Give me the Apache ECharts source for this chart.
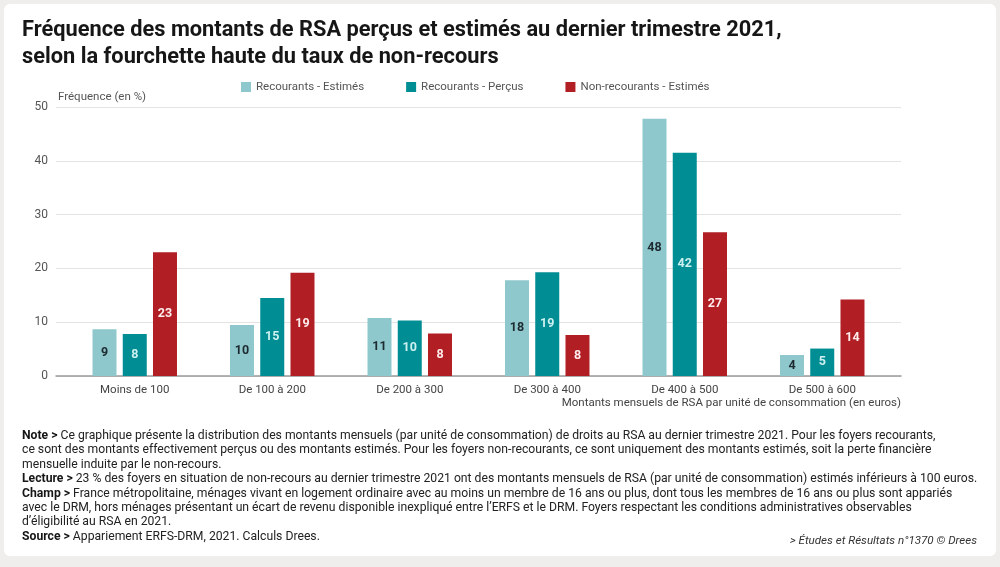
<!DOCTYPE html>
<html>
<head>
<meta charset="utf-8">
<script src="https://cdn.jsdelivr.net/npm/echarts@6/dist/echarts.min.js"></script>
<style>
  html, body { margin: 0; padding: 0; background: #efeeed; }
  #main { position: absolute; left: 0; top: 0; width: 1000px; height: 567px; }
</style>
</head>
<body>
<div id="main"></div>
<script>
var categories = ['Moins de 100', 'De 100 à 200', 'De 200 à 300', 'De 300 à 400', 'De 400 à 500', 'De 500 à 600'];
var seriesNames = ['Recourants - Estimés', 'Recourants - Perçus', 'Non-recourants - Estimés'];
var recourantsEstimes = [8.7, 9.5, 10.8, 17.8, 47.8, 3.9];
var recourantsPercus = [7.8, 14.5, 10.3, 19.3, 41.5, 5.1];
var nonRecourantsEstimes = [23.0, 19.2, 7.9, 7.6, 26.7, 14.2];
var colors = ['#8ec8cc', '#008d93', '#b11f24'];
var labelColors = ['#1d2a30', '#cdf1f1', '#ffecec'];

var noteLines = [
  ['Note >', ' Ce graphique présente la distribution des montants mensuels (par unité de consommation) de droits au RSA au dernier trimestre 2021. Pour les foyers recourants,'],
  ['', 'ce sont des montants effectivement perçus ou des montants estimés. Pour les foyers non-recourants, ce sont uniquement des montants estimés, soit la perte financière'],
  ['', 'mensuelle induite par le non-recours.'],
  ['Lecture >', ' 23 % des foyers en situation de non-recours au dernier trimestre 2021 ont des montants mensuels de RSA (par unité de consommation) estimés inférieurs à 100 euros.'],
  ['Champ >', ' France métropolitaine, ménages vivant en logement ordinaire avec au moins un membre de 16 ans ou plus, dont tous les membres de 16 ans ou plus sont appariés'],
  ['', 'avec le DRM, hors ménages présentant un écart de revenu disponible inexpliqué entre l’ERFS et le DRM. Foyers respectant les conditions administratives observables'],
  ['', 'd’éligibilité au RSA en 2021.'],
  ['Source >', ' Appariement ERFS-DRM, 2021. Calculs Drees.']
];

(function () {
  var myChart = echarts.init(document.getElementById('main'));
  var font = 'Roboto, "Noto Sans", sans-serif';
  var data = [recourantsEstimes, recourantsPercus, nonRecourantsEstimes];

  var series = seriesNames.map(function (name, i) {
    return {
      name: name,
      type: 'bar',
      xAxisIndex: 1,
      yAxisIndex: 1,
      data: data[i],
      barWidth: 24,
      barGap: '26%',
      itemStyle: { color: colors[i] },
      label: {
        show: true,
        position: 'inside',
        color: labelColors[i],
        fontFamily: font,
        fontWeight: 'bold',
        fontSize: 12.5,
        formatter: function (p) { return Math.round(p.value); }
      }
    };
  });

  var graphics = [
    // panneau blanc
    {
      type: 'rect', z: -10, silent: true,
      shape: { x: 4, y: 4, width: 992, height: 552, r: 6 },
      style: { fill: '#ffffff' }
    },
    {
      type: 'text', left: 22, top: 17,
      style: {
        text: 'Fréquence des montants de RSA perçus et estimés au dernier trimestre 2021,\nselon la fourchette haute du taux de non-recours',
        font: 'bold 21.8px ' + font, fill: '#161616', lineHeight: 27
      }
    },
    {
      type: 'text', right: 99, top: 397,
      style: {
        text: 'Montants mensuels de RSA par unité de consommation (en euros)',
        font: '11.5px ' + font, fill: '#444'
      }
    },
    {
      type: 'text', right: 23, top: 535,
      style: {
        text: '> Études et Résultats n°1370 © Drees',
        font: 'italic 11.6px ' + font, fill: '#333'
      }
    }
  ];

  noteLines.forEach(function (line, i) {
    var txt = line[0] ? '{b|' + line[0] + '}{n|' + line[1] + '}' : '{n|' + line[1] + '}';
    graphics.push({
      type: 'text', left: 22, top: 430 + i * 14.4,
      style: {
        text: txt,
        rich: {
          b: { fontFamily: font, fontSize: 12.2, fontWeight: 'bold', fill: '#161616' },
          n: { fontFamily: font, fontSize: 12.2, fill: '#222' }
        }
      }
    });
  });

  var option = {
    backgroundColor: 'transparent',
    textStyle: { fontFamily: font },
    legend: {
      left: 236, top: 76,
      itemWidth: 10, itemHeight: 10, itemGap: 42,
      icon: 'rect',
      textStyle: { color: '#555', fontSize: 11.5, fontFamily: font }
    },
    grid: [
      { left: 56, right: 99, top: 107, bottom: 191 },
      { left: 66, right: 109, top: 107, bottom: 191 }
    ],
    xAxis: [
      {
        // ligne de base sur toute la largeur
        type: 'value', gridIndex: 0, min: 0, max: 1,
        axisTick: { show: false },
        axisLabel: { show: false },
        splitLine: { show: false },
        axisLine: { show: true, lineStyle: { color: '#9a9a9a', width: 1.5 } }
      },
      {
        type: 'category', gridIndex: 1,
        data: categories,
        axisTick: { show: false },
        axisLine: { show: false },
        axisLabel: { color: '#444', fontSize: 11.5, margin: 8 }
      }
    ],
    yAxis: [
      {
        type: 'value', gridIndex: 0,
        min: 0, max: 50, interval: 10,
        name: 'Fréquence (en %)',
        nameLocation: 'end',
        nameGap: 4,
        nameTextStyle: { color: '#555', fontSize: 11.5, align: 'left', padding: [0, 0, 0, 2] },
        axisLine: { show: false },
        axisTick: { show: false },
        axisLabel: { color: '#555', fontSize: 12, margin: 8 },
        splitLine: { lineStyle: { color: '#e3e3e3', width: 1 } }
      },
      {
        type: 'value', gridIndex: 1,
        min: 0, max: 50, interval: 10,
        show: false,
        splitLine: { show: false }
      }
    ],
    series: series,
    graphic: graphics
  };

  myChart.setOption(option);
  window.addEventListener('resize', function () { myChart.resize(); });
})();
</script>
</body>
</html>
